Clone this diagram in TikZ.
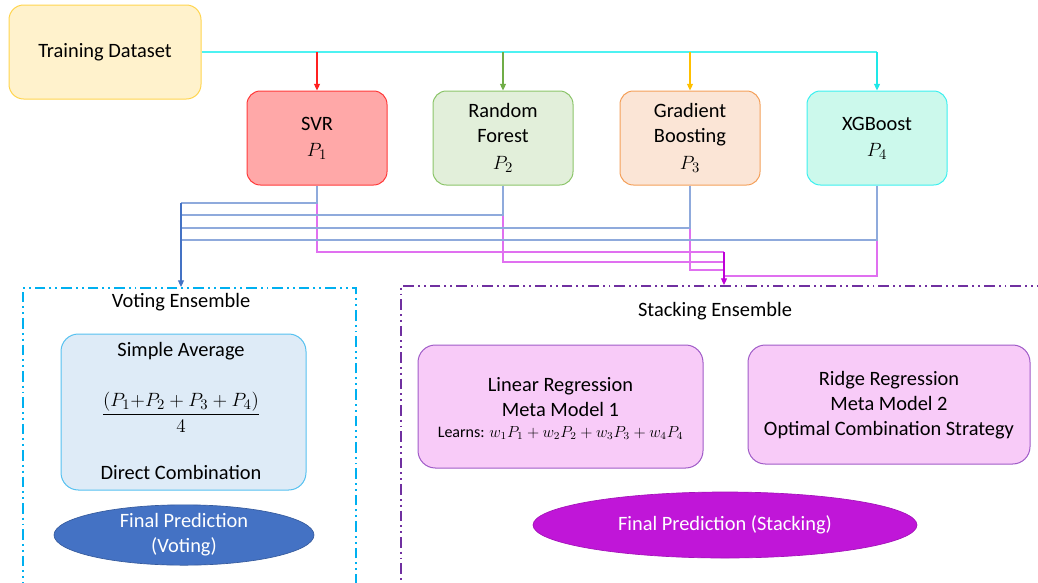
\documentclass[tikz,border=0pt]{standalone}
\usepackage{fontspec}
\setmainfont{Carlito}
\usetikzlibrary{arrows.meta,shapes.geometric}

\definecolor{tdFill}{HTML}{FFF2CC}
\definecolor{tdLine}{HTML}{FFD54F}
\definecolor{svrFill}{HTML}{FFA8A8}
\definecolor{svrLine}{HTML}{FF3B3B}
\definecolor{rfFill}{HTML}{E2EFDA}
\definecolor{rfLine}{HTML}{8CC56A}
\definecolor{gbFill}{HTML}{FBE5D6}
\definecolor{gbLine}{HTML}{F4A05A}
\definecolor{xgFill}{HTML}{CCF9EC}
\definecolor{xgLine}{HTML}{3DF0F0}
\definecolor{busCyan}{HTML}{4DF2F2}
\definecolor{dropRed}{HTML}{FF2020}
\definecolor{dropGreen}{HTML}{70AD47}
\definecolor{dropGold}{HTML}{FFC000}
\definecolor{dropCyan}{HTML}{1EE8E8}
\definecolor{voteLine}{HTML}{8FAADC}
\definecolor{voteDark}{HTML}{4472C4}
\definecolor{stackLine}{HTML}{E070F0}
\definecolor{stackDark}{HTML}{C000D8}
\definecolor{voteFrame}{HTML}{00B0F0}
\definecolor{stackFrame}{HTML}{7030A0}
\definecolor{avgFill}{HTML}{DEEBF7}
\definecolor{avgLine}{HTML}{56C1F0}
\definecolor{metaFill}{HTML}{F8CBF8}
\definecolor{metaLine}{HTML}{A05CC8}
\definecolor{finStack}{HTML}{C016D8}

\begin{document}
\begin{tikzpicture}[x=0.75pt,y=-0.75pt,
  font=\fontsize{15.3}{18.75}\selectfont,
  box/.style={rectangle, rounded corners=10pt, line width=0.75pt, align=center, inner sep=0pt},
  model/.style={box, minimum width=105pt, minimum height=70.5pt},
  wire/.style={line width=0.8pt},
  tip/.style={-{Triangle[length=5pt,width=4.5pt]}},
  frame/.style={rectangle, line width=1.4pt, inner sep=0pt,
    dash pattern=on 8pt off 3pt on 1.4pt off 3pt on 1.4pt off 3pt},
  label/.style={inner sep=0pt, align=center}]

\clip (0,0) rectangle (1038,582);

% source and base learners
\node[box, fill=tdFill, draw=tdLine, minimum width=144pt, minimum height=70.5pt, rounded corners=11pt]
  (td) at (105,52) {Training Dataset};
\node[model, fill=svrFill, draw=svrLine] (svr) at (317,138) {SVR\\[1pt]$P_1$};
\node[model, fill=rfFill, draw=rfLine] (rf) at (503,138) {Random\\Forest\\[1pt]$P_2$};
\node[model, fill=gbFill, draw=gbLine] (gb) at (690,138) {Gradient\\Boosting\\[1pt]$P_3$};
\node[model, fill=xgFill, draw=xgLine] (xg) at (877,138) {XGBoost\\[1pt]$P_4$};

% ensemble frames
\node[frame, draw=voteFrame, minimum width=249.75pt, minimum height=250pt, anchor=north west]
  (votefr) at (22,287) {};
\node[frame, draw=stackFrame, minimum width=483.75pt, minimum height=250pt, anchor=north west]
  (stackfr) at (400,285) {};

% data bus to the learners
\draw[wire, busCyan] (td.east) -- (xg.north |- td.east);
\draw[wire, tip, dropRed]   (svr.north |- td.east) -- (svr.north);
\draw[wire, tip, dropGreen] (rf.north |- td.east) -- (rf.north);
\draw[wire, tip, dropGold]  (gb.north |- td.east) -- (gb.north);
\draw[wire, tip, dropCyan]  (xg.north |- td.east) -- (xg.north);

% bus points of the two combiners
\coordinate (vb1) at (181,203);
\coordinate (vb2) at (181,215);
\coordinate (vb3) at (181,228);
\coordinate (vb4) at (181,240);
\coordinate (sb1) at (724,252);
\coordinate (sb2) at (724,262);
\coordinate (sb3) at (724,270);
\coordinate (sb4) at (724,276);

% predictions to the stacking ensemble
\draw[wire, stackLine] (svr.south) |- (sb1);
\draw[wire, stackLine] (rf.south) |- (sb2);
\draw[wire, stackLine] (gb.south) |- (sb3);
\draw[wire, stackLine] (xg.south) |- (sb4);
\draw[wire, tip, stackDark] (sb1) -- (stackfr.north -| sb1);

% predictions to the voting ensemble
\draw[wire, voteLine] (svr.south) |- (vb1);
\draw[wire, voteLine] (rf.south) |- (vb2);
\draw[wire, voteLine] (gb.south) |- (vb3);
\draw[wire, voteLine] (xg.south) |- (vb4);
\draw[wire, tip, voteDark] (vb1) -- (votefr.north -| vb1);

% voting ensemble
\node[label] (votetitle) at (181,302) {Voting Ensemble};
\node[box, fill=avgFill, draw=avgLine, minimum width=183.75pt, minimum height=117pt, rounded corners=13pt]
  (avg) at (183.5,412) {};
\node[label] (avgtitle) at (181,351) {Simple Average};
\node[label, font=\fontsize{15.3}{18}\selectfont] (avgformula) at (181,412)
  {$\displaystyle\frac{(P_1{+}P_2 + P_3 + P_4)}{4}$};
\node[label] (avgnote) at (181,472) {Direct Combination};
\node[ellipse, fill=voteDark, draw=voteDark!80!black, line width=0.5pt, minimum width=195pt,
  minimum height=43.5pt, inner sep=0pt, text=white, align=center]
  (finvote) at (184,535) {Final Prediction\\(Voting)};

% stacking ensemble
\node[label] (stacktitle) at (715,311) {Stacking Ensemble};
\node[box, fill=metaFill, draw=metaLine, minimum width=213.75pt, minimum height=92.25pt, rounded corners=13pt]
  (lin) at (560.5,406.5) {};
\node[label] (lintext) at (560.5,397.5) {Linear Regression\\Meta Model 1};
\node[label, font=\fontsize{12}{14}\selectfont] (linlearn) at (560.5,433)
  {Learns: $w_1P_1 + w_2P_2 + w_3P_3 + w_4P_4$};
\node[box, fill=metaFill, draw=metaLine, minimum width=211.5pt, minimum height=89.25pt, rounded corners=13pt]
  (ridge) at (889,404.5) {};
\node[label] (ridgetext) at (889,405) {Ridge Regression\\Meta Model 2\\Optimal Combination Strategy};
\node[ellipse, fill=finStack, draw=finStack!85!black, line width=0.5pt, minimum width=288pt,
  minimum height=49.5pt, inner sep=0pt, text=white]
  (finstack) at (725,525) {Final Prediction (Stacking)};

\end{tikzpicture}
\end{document}
